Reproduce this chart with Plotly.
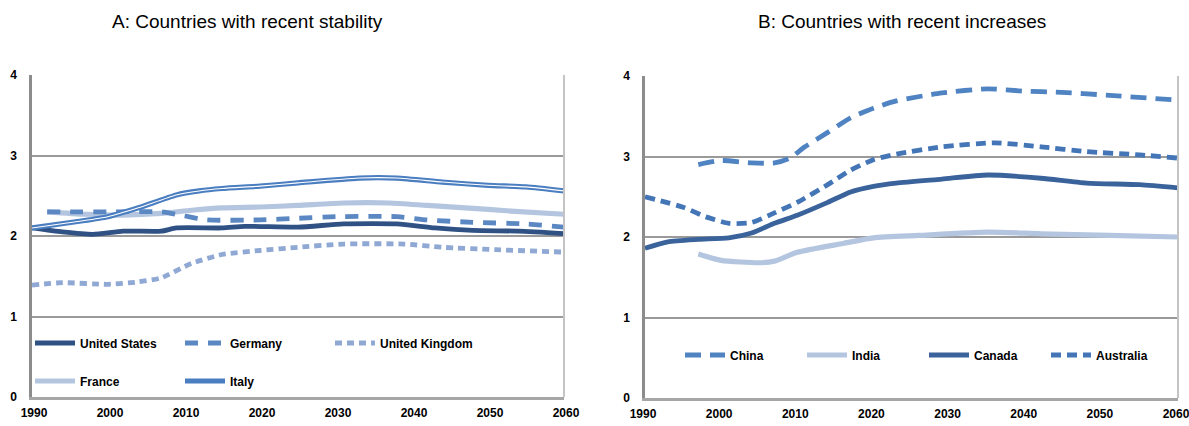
import plotly.graph_objects as go

# ---------------- data ----------------
x_ticks = [1990, 2000, 2010, 2020, 2030, 2040, 2050, 2060]
y_ticks = [0, 1, 2, 3, 4]

us_years = [1990, 1994, 1998, 2002, 2007, 2009, 2015, 2018, 2025, 2031, 2038, 2043, 2048, 2054, 2060]
us_vals = [2.10, 2.05, 2.02, 2.06, 2.06, 2.10, 2.10, 2.12, 2.11, 2.15, 2.15, 2.10, 2.07, 2.06, 2.03]

de_years = [1992, 1995, 2000, 2007, 2010, 2013, 2020, 2025, 2030, 2038, 2042, 2048, 2055, 2060]
de_vals = [2.30, 2.30, 2.30, 2.30, 2.25, 2.20, 2.20, 2.22, 2.24, 2.24, 2.20, 2.17, 2.15, 2.11]

uk_years = [1990, 1994, 2000, 2004, 2007, 2011, 2015, 2020, 2025, 2031, 2039, 2044, 2051, 2060]
uk_vals = [1.39, 1.42, 1.40, 1.43, 1.48, 1.66, 1.77, 1.82, 1.86, 1.90, 1.90, 1.86, 1.83, 1.80]

fr_years = [1992, 1997, 2002, 2007, 2011, 2015, 2020, 2025, 2031, 2037, 2042, 2047, 2053, 2060]
fr_vals = [2.30, 2.27, 2.26, 2.28, 2.32, 2.35, 2.36, 2.38, 2.41, 2.41, 2.38, 2.35, 2.31, 2.27]

it_years = [1990, 1996, 2000, 2004, 2009, 2012, 2015, 2020, 2025, 2033, 2038, 2044, 2050, 2055, 2060]
it_vals = [2.10, 2.18, 2.24, 2.35, 2.51, 2.56, 2.59, 2.62, 2.66, 2.72, 2.72, 2.67, 2.63, 2.61, 2.56]

cn_years = [1997, 2000, 2004, 2007, 2009, 2011, 2014, 2017, 2020, 2023, 2029, 2035, 2040, 2044, 2051, 2060]
cn_vals = [2.90, 2.95, 2.92, 2.92, 2.98, 3.12, 3.30, 3.48, 3.60, 3.69, 3.79, 3.84, 3.81, 3.80, 3.76, 3.70]

in_years = [1997, 2000, 2005, 2007, 2010, 2016, 2020, 2026, 2035, 2042, 2051, 2060]
in_vals = [1.79, 1.71, 1.68, 1.70, 1.81, 1.92, 1.99, 2.02, 2.06, 2.04, 2.02, 2.00]

ca_years = [1990, 1993, 1997, 2001, 2004, 2007, 2010, 2014, 2017, 2020, 2023, 2029, 2035, 2042, 2048, 2055, 2060]
ca_vals = [1.86, 1.94, 1.97, 1.99, 2.05, 2.17, 2.27, 2.43, 2.56, 2.63, 2.67, 2.72, 2.77, 2.73, 2.67, 2.65, 2.61]

au_years = [1990, 1995, 1998, 2001, 2004, 2007, 2010, 2014, 2017, 2020, 2023, 2029, 2036, 2042, 2048, 2055, 2060]
au_vals = [2.50, 2.37, 2.25, 2.17, 2.18, 2.30, 2.43, 2.65, 2.83, 2.96, 3.03, 3.12, 3.17, 3.12, 3.06, 3.02, 2.98]

title_a = "A: Countries with recent stability"
title_b = "B: Countries with recent increases"

# ---------------- styling ----------------
W, H = 1189, 426
C_NAVY = "#2f5183"
C_MID = "#5b88c3"
C_UK = "#8fa8d4"
C_LIGHT = "#b4c5e0"
C_IT = "#4a7ec0"
C_CN = "#4f83c2"
C_CA = "#3a639c"
C_AU = "#4475b6"

TICKFONT = dict(family="Liberation Sans, Arial, sans-serif", size=12, color="#000000", weight="bold")
LEGFONT = dict(family="Liberation Sans, Arial, sans-serif", size=12, color="#000000", weight="bold")

fig = go.Figure()

def line(xs, ys, name, color, width, dash="solid", xa="x", ya="y", legend="legend", showlegend=True):
    fig.add_trace(go.Scatter(
        x=xs, y=ys, name=name, mode="lines", xaxis=xa, yaxis=ya,
        line=dict(color=color, width=width, dash=dash, shape="spline", smoothing=0.6),
        legend=legend, showlegend=showlegend, hoverinfo="skip"))

# Panel A
line(uk_years, uk_vals, "United Kingdom", C_UK, 4.8, "7px,5px", legend="legend")
line(fr_years, fr_vals, "France", C_LIGHT, 5.2, legend="legend2")
line(de_years, de_vals, "Germany", C_MID, 4.8, "13px,10px", legend="legend")
line(us_years, us_vals, "United States", C_NAVY, 4.8, legend="legend")
line(it_years, it_vals, "Italy", C_IT, 5.2, legend="legend2")
line(it_years, it_vals, "Italy", "#ffffff", 1.1, legend="legend2", showlegend=False)

# Panel B
line(cn_years, cn_vals, "China", C_CN, 4.8, "16px,9px", "x2", "y2", legend="legend3")
line(in_years, in_vals, "India", C_LIGHT, 5.2, "solid", "x2", "y2", legend="legend3")
line(ca_years, ca_vals, "Canada", C_CA, 4.8, "solid", "x2", "y2", legend="legend3")
line(au_years, au_vals, "Australia", C_AU, 4.8, "10px,6px", "x2", "y2", legend="legend3")

def px_x(p):
    return p / W

def px_y(p):
    return 1 - p / H

xa_common = dict(range=[1990, 2060], tickvals=x_ticks, ticktext=[str(v) for v in x_ticks],
                 showgrid=False, zeroline=False, showline=True, linecolor="#a6a6a6", linewidth=2.5,
                 ticks="", tickfont=TICKFONT, ticklabelstandoff=3, fixedrange=True, automargin=False,
                 ticklabeloverflow="allow")
ya_common = dict(range=[0, 4], tickvals=y_ticks, showgrid=True, gridcolor="#9a9a9a", gridwidth=2,
                 zeroline=False, showline=True, linecolor="#8c8c8c", linewidth=2.5,
                 ticks="", tickfont=TICKFONT, ticklabelstandoff=10, fixedrange=True, automargin=False)

legend_common = dict(orientation="h", font=LEGFONT, bgcolor="rgba(0,0,0,0)",
                     xanchor="left", yanchor="middle", itemwidth=40, traceorder="normal",
                     entrywidthmode="pixels", itemclick=False, itemdoubleclick=False)

fig.update_layout(
    width=W, height=H, margin=dict(l=0, r=0, t=0, b=0, autoexpand=False),
    plot_bgcolor="#ffffff", paper_bgcolor="#ffffff",
    xaxis=dict(domain=[px_x(32), px_x(564)], anchor="y", ticklabelshift=2, **xa_common),
    yaxis=dict(domain=[px_y(397), px_y(75)], anchor="x", **ya_common),
    xaxis2=dict(domain=[px_x(645), px_x(1178)], anchor="y2", ticklabelshift=-2, **xa_common),
    yaxis2=dict(domain=[px_y(398), px_y(76)], anchor="x2", **ya_common),
    legend=dict(x=px_x(30), y=px_y(343), entrywidth=95, **legend_common),
    legend2=dict(x=px_x(30), y=px_y(381), entrywidth=95, **legend_common),
    legend3=dict(x=px_x(680), y=px_y(355), entrywidth=67, **legend_common),
    showlegend=True,
    annotations=[
        dict(text=title_a, x=px_x(247), y=px_y(22), xref="paper", yref="paper",
             xanchor="center", yanchor="middle",
             showarrow=False, font=dict(family="Liberation Sans, Arial, sans-serif", size=19, color="#000")),
        dict(text=title_b, x=px_x(902), y=px_y(22), xref="paper", yref="paper",
             xanchor="center", yanchor="middle",
             showarrow=False, font=dict(family="Liberation Sans, Arial, sans-serif", size=19, color="#000")),
    ],
    shapes=[
        dict(type="line", xref="x domain", yref="y domain", x0=1, x1=1, y0=0, y1=1,
             line=dict(color="#c4c4c4", width=2)),
        dict(type="line", xref="x2 domain", yref="y2 domain", x0=1, x1=1, y0=0, y1=1,
             line=dict(color="#c4c4c4", width=2)),
    ],
)

order = {"United States": 1, "Germany": 2, "United Kingdom": 3, "France": 1, "Italy": 2,
         "China": 1, "India": 2, "Canada": 3, "Australia": 4}
for tr in fig.data:
    tr.legendrank = order.get(tr.name, 10)

# remove the browser's default page margin so the figure fills the window exactly
fig.write_html("out.html",
               config={"displayModeBar": False},
               post_script="document.body.style.margin='0';document.body.style.overflow='hidden';")
